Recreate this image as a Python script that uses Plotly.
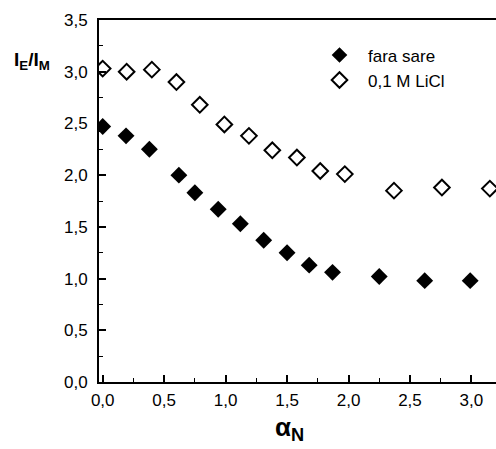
import plotly.graph_objects as go

x_fara = [0.0, 0.19, 0.38, 0.62, 0.75, 0.94, 1.12, 1.31, 1.50, 1.68, 1.87, 2.25, 2.62, 2.99]
y_fara = [2.47, 2.38, 2.25, 2.00, 1.83, 1.67, 1.53, 1.37, 1.25, 1.13, 1.06, 1.02, 0.98, 0.98]
x_licl = [0.0, 0.195, 0.40, 0.60, 0.79, 0.99, 1.19, 1.38, 1.58, 1.77, 1.97, 2.37, 2.76, 3.15]
y_licl = [3.03, 3.00, 3.02, 2.90, 2.68, 2.49, 2.38, 2.24, 2.17, 2.04, 2.01, 1.85, 1.88, 1.87]

x_ticks = [0.0, 0.5, 1.0, 1.5, 2.0, 2.5, 3.0]
x_ticklabels = ["0,0", "0,5", "1,0", "1,5", "2,0", "2,5", "3,0"]
y_ticks = [0.0, 0.5, 1.0, 1.5, 2.0, 2.5, 3.0, 3.5]
y_ticklabels = ["0,0", "0,5", "1,0", "1,5", "2,0", "2,5", "3,0", "3,5"]

FONT = "Arial, Liberation Sans, sans-serif"

fig = go.Figure()
fig.add_trace(go.Scatter(
    x=x_fara, y=y_fara, mode="markers", name="fara sare",
    marker=dict(symbol="diamond", size=13, color="black", line=dict(width=0)),
))
fig.add_trace(go.Scatter(
    x=x_licl, y=y_licl, mode="markers", name="0,1 M LiCl",
    marker=dict(symbol="diamond-open", size=12, color="black", line=dict(width=2, color="black")),
))

axis_common = dict(
    showline=True, linecolor="black", linewidth=2,
    ticks="inside", ticklen=7, tickwidth=1.5, tickcolor="black",
    showgrid=False, zeroline=False,
    tickfont=dict(family=FONT, size=17, color="black"),
    minor=dict(ticks="inside", ticklen=4, tickwidth=1, tickcolor="black", dtick=0.25, showgrid=False),
)

fig.update_xaxes(
    range=[-0.03, 3.2], tickmode="array", tickvals=x_ticks, ticktext=x_ticklabels,
    mirror=True, ticklabelstandoff=2, **axis_common,
)
fig.update_yaxes(
    range=[0, 3.5], tickmode="array", tickvals=y_ticks, ticktext=y_ticklabels,
    ticklabelstandoff=6, **axis_common,
)

fig.add_annotation(
    xref="paper", yref="paper", x=-0.219, y=0.925,
    text="<b>I<sub>E</sub>/I<sub>M</sub></b>", showarrow=False,
    font=dict(family=FONT, size=19, color="black"),
)
fig.add_annotation(
    xref="paper", yref="paper", x=0.481, y=-0.18,
    text="<b>α<sub>N</sub></b>", showarrow=False,
    font=dict(family=FONT, size=26, color="black"),
)

fig.update_layout(
    width=496, height=449,
    margin=dict(l=99, r=0, t=20, b=67),
    plot_bgcolor="white", paper_bgcolor="white",
    showlegend=True,
    legend=dict(
        x=0.534, y=0.952, xanchor="left", yanchor="top",
        bgcolor="rgba(0,0,0,0)", font=dict(family=FONT, size=17, color="black"),
        itemsizing="constant", itemwidth=47, tracegroupgap=0,
    ),
)

fig.write_html("out.html")
